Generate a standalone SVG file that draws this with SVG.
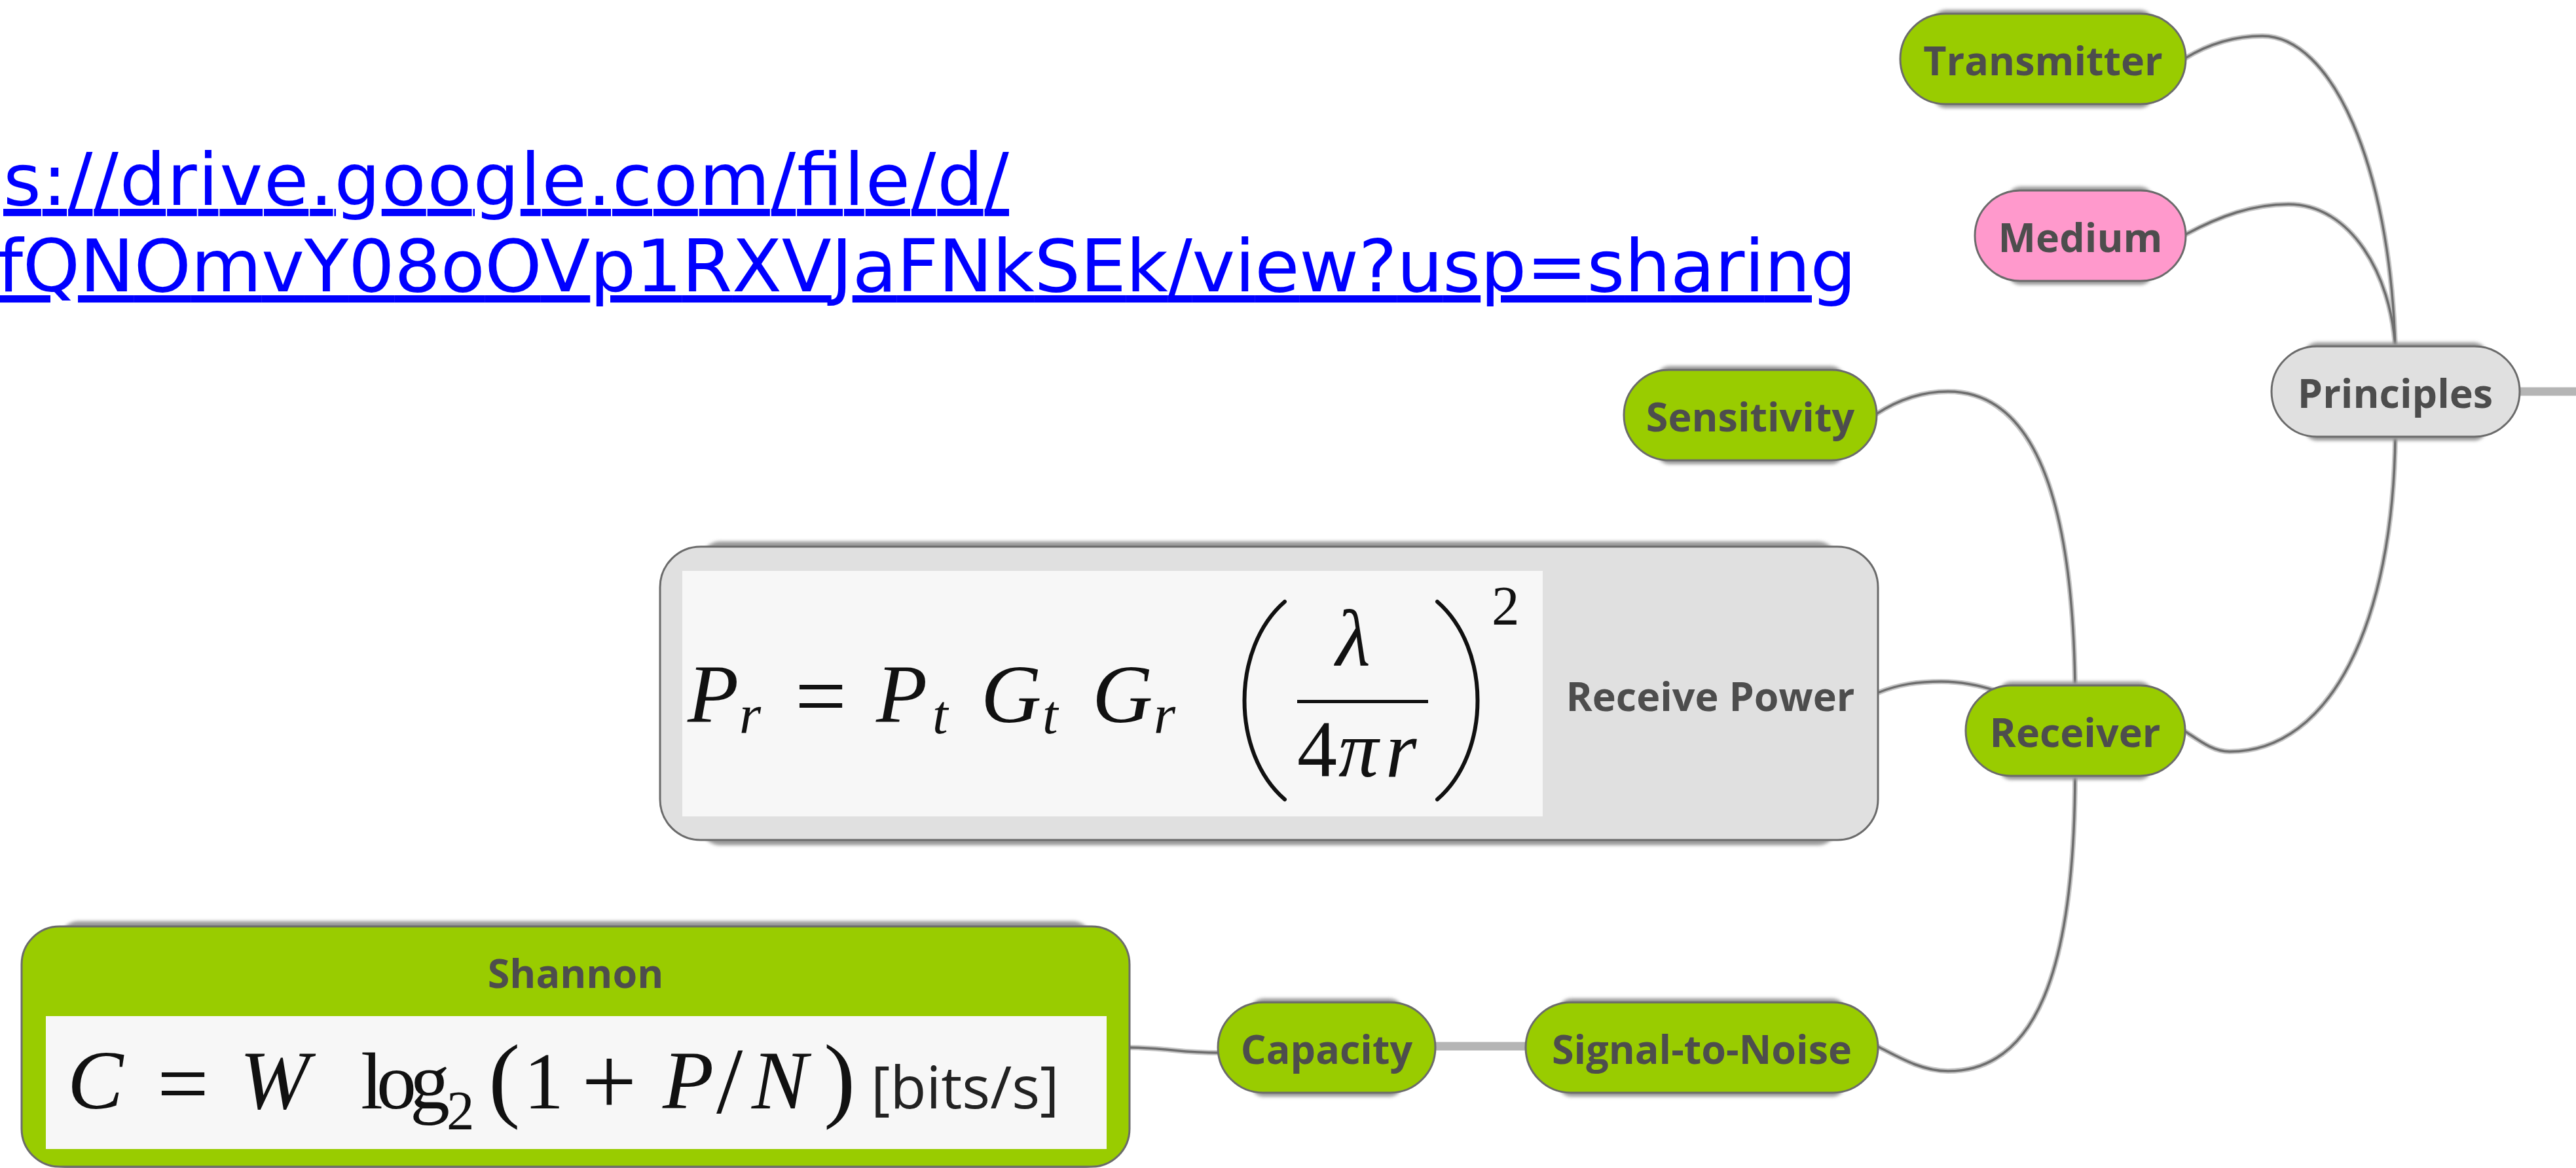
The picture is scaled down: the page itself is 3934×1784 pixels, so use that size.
<svg xmlns="http://www.w3.org/2000/svg" width="3934" height="1784" viewBox="0 0 3934 1784">
  <defs>
    <filter id="soft" x="-10%" y="-40%" width="120%" height="180%">
      <feGaussianBlur stdDeviation="2.5"/>
    </filter>
  </defs>
  <style>
    .lbl{font-family:"Open Sans","Liberation Sans",sans-serif;font-weight:700;font-size:61px;fill:#4d4d4d;text-anchor:middle}
    .pill{stroke:#6b6b6b;stroke-width:3}
    .green{fill:#99cc00}
    .pink{fill:#ff99cc}
    .grey{fill:#e0e0e0}
    .paper{fill:#f7f7f7}
    .shadow{fill:#9a9a9a;filter:url(#soft)}
    .halo{fill:none;stroke:#c6c6c6;stroke-width:8;stroke-linecap:round}
    .wire{fill:none;stroke:#6e6e6e;stroke-width:3.5;stroke-linecap:round}
    .trunk{fill:none;stroke:#b5b5b5;stroke-width:13}
    .link{font-family:"DejaVu Sans",Verdana,sans-serif;font-size:111px;fill:#0000ff;text-decoration:underline}
    .math{font-family:"Liberation Serif","Times New Roman",serif;font-size:122px;fill:#111}
    .mi{font-style:italic}
    .mn{font-style:normal}
    .big{font-size:128px}
    .sub{font-size:85px}
    .delim{fill:none;stroke:#111;stroke-width:6;stroke-linecap:round}
    .units{font-family:"Open Sans","Liberation Sans",sans-serif;font-style:normal;font-size:90px;fill:#222}
  </style>

  <!-- shared document link -->
  <g id="doc-link">
    <text class="link" x="5" y="313" textLength="1536" lengthAdjust="spacing">s://drive.google.com/file/d/</text>
    <text class="link" x="-4" y="445" textLength="2839" lengthAdjust="spacing">fQNOmvY08oOVp1RXVJaFNkSEk/view?usp=sharing</text>
  </g>

  <!-- connectors -->
  <g id="connectors">
    <path class="trunk" d="M3846,598 L3934,598"/>
    <path class="trunk" d="M2190,1598 L2332,1598"/>
    <g id="wire-halos">
      <path class="halo" d="M3337,89 C3375,66 3415,55 3455,55 C3560,55 3650,250 3658,532"/>
      <path class="halo" d="M3338,358 C3390,330 3440,312 3495,312 C3590,312 3652,420 3658,532"/>
      <path class="halo" d="M3658,666 C3655,950 3560,1148 3405,1148 C3380,1148 3360,1132 3337,1117"/>
      <path class="halo" d="M2866,632 C2900,610 2935,598 2975,598 C3120,598 3166,800 3169,1050"/>
      <path class="halo" d="M2868,1058 C2900,1045 2930,1041 2965,1041 C3030,1041 3100,1070 3169,1116"/>
      <path class="halo" d="M2867,1598 C2900,1615 2935,1636 2975,1636 C3110,1636 3168,1480 3169,1184"/>
      <path class="halo" d="M1725,1600 C1790,1601 1800,1608 1862,1608"/>
    </g>
    <g id="wire-cores">
      <path class="wire" d="M3337,89 C3375,66 3415,55 3455,55 C3560,55 3650,250 3658,532"/>
      <path class="wire" d="M3338,358 C3390,330 3440,312 3495,312 C3590,312 3652,420 3658,532"/>
      <path class="wire" d="M3658,666 C3655,950 3560,1148 3405,1148 C3380,1148 3360,1132 3337,1117"/>
      <path class="wire" d="M2866,632 C2900,610 2935,598 2975,598 C3120,598 3166,800 3169,1050"/>
      <path class="wire" d="M2868,1058 C2900,1045 2930,1041 2965,1041 C3030,1041 3100,1070 3169,1116"/>
      <path class="wire" d="M2867,1598 C2900,1615 2935,1636 2975,1636 C3110,1636 3168,1480 3169,1184"/>
      <path class="wire" d="M1725,1600 C1790,1601 1800,1608 1862,1608"/>
    </g>
  </g>

  <!-- topic nodes -->
  <g id="transmitter">
    <rect class="shadow" x="2952" y="15" width="336" height="150" rx="20"/>
    <rect class="pill green" x="2902" y="21" width="436" height="138" rx="69"/>
    <text class="lbl" x="3120" y="115">Transmitter</text>
  </g>
  <g id="medium">
    <rect class="shadow" x="3066" y="285" width="222" height="150" rx="20"/>
    <rect class="pill pink" x="3016" y="291" width="322" height="138" rx="69"/>
    <text class="lbl" x="3177" y="385">Medium</text>
  </g>
  <g id="principles">
    <rect class="shadow" x="3519" y="523" width="279" height="150" rx="20"/>
    <rect class="pill grey" x="3469" y="529" width="379" height="138" rx="69"/>
    <text class="lbl" x="3658" y="623">Principles</text>
  </g>
  <g id="sensitivity">
    <rect class="shadow" x="2530" y="559" width="286" height="150" rx="20"/>
    <rect class="pill green" x="2480" y="565" width="386" height="138" rx="69"/>
    <text class="lbl" x="2673" y="659">Sensitivity</text>
  </g>
  <g id="receiver">
    <rect class="shadow" x="3052" y="1041" width="235" height="150" rx="20"/>
    <rect class="pill green" x="3002" y="1047" width="335" height="138" rx="69"/>
    <text class="lbl" x="3169" y="1141">Receiver</text>
  </g>
  <g id="signal-to-noise">
    <rect class="shadow" x="2380" y="1525" width="438" height="150" rx="20"/>
    <rect class="pill green" x="2330" y="1531" width="538" height="138" rx="69"/>
    <text class="lbl" x="2599" y="1625">Signal-to-Noise</text>
  </g>
  <g id="capacity">
    <rect class="shadow" x="1910" y="1525" width="232" height="150" rx="20"/>
    <rect class="pill green" x="1860" y="1531" width="332" height="138" rx="69"/>
    <text class="lbl" x="2026" y="1625">Capacity</text>
  </g>

  <!-- received-power formula card -->
  <g id="receive-power">
    <rect class="shadow" x="1070" y="827" width="1736" height="464" rx="30"/>
    <rect class="pill grey" x="1008" y="835" width="1860" height="448" rx="62"/>
    <rect class="paper" x="1042" y="872" width="1314" height="375"/>
    <path class="delim" d="M1962,919 C1880,990 1880,1150 1962,1221"/>
    <path class="delim" d="M2195,919 C2277,990 2277,1150 2195,1221"/>
    <rect x="1981" y="1069" width="200" height="5" fill="#111"/>
    <text class="math mi"><tspan class="big" x="1050" y="1103">P</tspan><tspan class="sub" x="1129" y="1120">r</tspan><tspan class="mn" x="1214" y="1110" style="font-size:140px">=</tspan><tspan class="big" x="1338" y="1103">P</tspan><tspan class="sub" x="1424" y="1120">t</tspan><tspan class="big" x="1498" y="1103">G</tspan><tspan class="sub" x="1592" y="1120">t</tspan><tspan class="big" x="1668" y="1103">G</tspan><tspan class="sub" x="1762" y="1120">r</tspan><tspan x="2040" y="1016">λ</tspan><tspan class="mn" x="1981" y="1186">4</tspan><tspan x="2044" y="1186">π</tspan><tspan x="2116" y="1186">r</tspan><tspan class="mn sub" x="2278" y="954">2</tspan></text>
    <text class="lbl" x="2612" y="1086">Receive Power</text>
  </g>

  <!-- Shannon capacity card -->
  <g id="shannon">
    <rect class="shadow" x="90" y="1407" width="1578" height="390" rx="30"/>
    <rect class="pill green" x="33" y="1415" width="1692" height="367" rx="58"/>
    <rect class="paper" x="70" y="1552" width="1620" height="203"/>
    <text class="lbl" x="879" y="1509">Shannon</text>
    <text class="math mi"><tspan class="big" x="103" y="1693">C</tspan><tspan class="mn" x="240" y="1702" style="font-size:140px">=</tspan><tspan class="big" x="366" y="1693">W</tspan><tspan class="mn" x="551" y="1693" style="letter-spacing:-10px">log</tspan><tspan class="mn sub" x="682" y="1725">2</tspan><tspan class="mn" x="746" y="1695" style="font-size:145px">(</tspan><tspan class="mn" x="800" y="1693">1</tspan><tspan class="mn" x="888" y="1702" style="font-size:150px">+</tspan><tspan class="big" x="1012" y="1693">P</tspan><tspan class="mn" x="1094" y="1700" style="font-size:145px">/</tspan><tspan class="big" x="1148" y="1693">N</tspan><tspan class="mn" x="1258" y="1695" style="font-size:145px">)</tspan><tspan class="units" x="1330" y="1693">[bits/s]</tspan></text>
  </g>
</svg>
